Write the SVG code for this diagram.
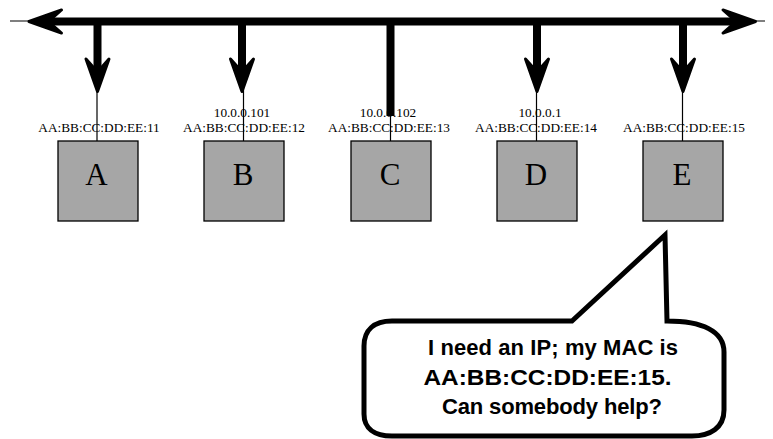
<svg xmlns="http://www.w3.org/2000/svg" width="773" height="439" viewBox="0 0 773 439">
  <style>
    .thin { stroke: #000; stroke-width: 1.2; fill: none; }
    .thick { stroke: #000; stroke-width: 8; fill: none; }
    .head { fill: #000; stroke: #000; stroke-width: 3; stroke-linejoin: round; }
    .box { fill: #a6a6a6; stroke: #000; stroke-width: 1.3; }
    .lbl { font-family: "Liberation Serif", "Times New Roman", serif; font-size: 13.3px; fill: #000; text-anchor: middle; }
    .name { font-family: "Liberation Serif", "Times New Roman", serif; font-size: 31px; fill: #000; text-anchor: middle; }
    .bubble { fill: #fff; stroke: #000; stroke-width: 5; stroke-linejoin: miter; }
    .say { font-family: "Liberation Sans", Arial, Helvetica, sans-serif; font-weight: bold; font-size: 22px; fill: #000; text-anchor: middle; }
  </style>
  <defs>
    <!-- arrowhead pointing down, tip at origin -->
    <path id="ah" class="head" d="M0 -1.5 L-11.5 -34 L0 -21 L11.5 -34 Z"/>
  </defs>

  <!-- shared network segment and drops -->
  <g id="connectors">
    <line class="thin" x1="10" y1="21" x2="765" y2="21"/>
    <line class="thick" x1="45" y1="21.5" x2="740" y2="21.5"/>
    <use href="#ah" transform="translate(27.5 21.5) rotate(90)"/>
    <use href="#ah" transform="translate(757 21.5) rotate(-90)"/>

    <line class="thick" x1="97.5" y1="21" x2="97.5" y2="75"/>
    <use href="#ah" transform="translate(97.5 93)"/>
    <line class="thin" x1="97" y1="88" x2="97" y2="141"/>

    <line class="thick" x1="242" y1="21" x2="242" y2="75"/>
    <use href="#ah" transform="translate(242 93)"/>
    <line class="thin" x1="243.5" y1="88" x2="243.5" y2="141"/>

    <line class="thick" x1="390.5" y1="21" x2="390.5" y2="116"/>
    <line class="thin" x1="390.5" y1="110" x2="390.5" y2="141"/>

    <line class="thick" x1="537" y1="21" x2="537" y2="75"/>
    <use href="#ah" transform="translate(537 93)"/>
    <line class="thin" x1="536.5" y1="88" x2="536.5" y2="141"/>

    <line class="thick" x1="683" y1="21" x2="683" y2="75"/>
    <use href="#ah" transform="translate(683 93)"/>
    <line class="thin" x1="682.5" y1="88" x2="682.5" y2="141"/>
  </g>

  <g id="node-A">
    <text class="lbl" x="99" y="132">AA:BB:CC:DD:EE:11</text>
    <rect class="box" x="58" y="141" width="80" height="80"/>
    <text class="name" x="96.5" y="185">A</text>
  </g>

  <g id="node-B">
    <text class="lbl" x="242" y="117">10.0.0.101</text>
    <text class="lbl" x="244" y="132">AA:BB:CC:DD:EE:12</text>
    <rect class="box" x="204" y="141" width="80" height="80"/>
    <text class="name" x="243" y="185">B</text>
  </g>

  <g id="node-C">
    <text class="lbl" x="388" y="117">10.0.0.102</text>
    <text class="lbl" x="389" y="132">AA:BB:CC:DD:EE:13</text>
    <rect class="box" x="351" y="141" width="80" height="80"/>
    <text class="name" x="390" y="185">C</text>
  </g>

  <g id="node-D">
    <text class="lbl" x="540" y="117">10.0.0.1</text>
    <text class="lbl" x="536" y="132">AA:BB:CC:DD:EE:14</text>
    <rect class="box" x="497" y="141" width="80" height="80"/>
    <text class="name" x="536" y="185">D</text>
  </g>

  <g id="node-E">
    <text class="lbl" x="684" y="132">AA:BB:CC:DD:EE:15</text>
    <rect class="box" x="643" y="141" width="80" height="80"/>
    <text class="name" x="682" y="185">E</text>
  </g>

  <!-- speech bubble from E -->
  <g id="bubble">
    <path class="bubble" d="M572 321 L665 235 L667 321 C702 321 724 331 724 352 L724 410 C724 428 710 436 692 436 L392 436 C374 436 364 428 364 414 L364 346 C364 330 374 321 392 321 Z"/>
    <text class="say" x="553" y="355" textLength="250">I need an IP; my MAC is</text>
    <text class="say" x="547.5" y="384.5" textLength="248" lengthAdjust="spacingAndGlyphs">AA:BB:CC:DD:EE:15.</text>
    <text class="say" x="552" y="414" textLength="220"> Can somebody help?</text>
  </g>
</svg>
